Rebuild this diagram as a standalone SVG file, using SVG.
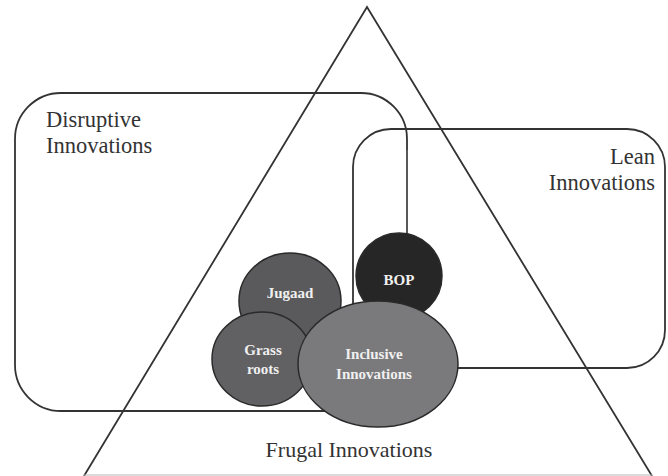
<svg xmlns="http://www.w3.org/2000/svg" width="668" height="476" viewBox="0 0 668 476">
  <style>
    .outline { fill: none; stroke: #333333; stroke-width: 1.8; }
    .label { font-family: "Liberation Serif", "Times New Roman", serif; font-size: 22.5px; fill: #333333; }
    .blob { stroke: #2a2a2a; stroke-width: 1.5; }
    .blob-text { font-family: "Liberation Serif", "Times New Roman", serif; font-size: 15px; font-weight: bold; fill: #f0f0f0; text-anchor: middle; }
  </style>

  <rect width="668" height="476" fill="#ffffff"/>

  <!-- Frugal innovations: the large triangle -->
  <g id="frugal">
    <polyline class="outline" points="84,476 367,7 652,476" stroke-width="1.6"/>
    <line x1="84" y1="475" x2="652" y2="475" stroke="#b8b8b8" stroke-width="1"/>
    <text class="label" x="349" y="457" text-anchor="middle" style="font-size:22px">Frugal Innovations</text>
  </g>

  <!-- Disruptive innovations box -->
  <g id="disruptive">
    <path class="outline" d="M407,233 V139 A46,46 0 0 0 361,93 H61 A46,46 0 0 0 15,139 V365 A46,46 0 0 0 61,411 H361"/>
    <line x1="407" y1="150" x2="407" y2="240" stroke="#666666" stroke-width="1.2"/>
    <text class="label" x="46" y="127">Disruptive</text>
    <text class="label" x="46" y="153">Innovations</text>
  </g>

  <!-- Lean innovations box -->
  <g id="lean">
    <rect class="outline" x="353" y="129" width="312" height="239" rx="38" ry="38"/>
    <text class="label" x="655" y="164" text-anchor="end">Lean</text>
    <text class="label" x="655" y="190" text-anchor="end">Innovations</text>
  </g>

  <!-- Inner ellipses -->
  <g id="jugaad">
    <ellipse class="blob" cx="290" cy="301" rx="51" ry="48" fill="#5a5a5c"/>
    <text class="blob-text" x="290" y="298">Jugaad</text>
  </g>

  <g id="bop">
    <ellipse class="blob" cx="399" cy="276" rx="43" ry="43" fill="#262626"/>
    <text class="blob-text" x="399" y="285">BOP</text>
  </g>

  <g id="grass-roots">
    <ellipse class="blob" cx="262" cy="359" rx="50" ry="47" fill="#616163"/>
    <text class="blob-text" x="263" y="355">Grass</text>
    <text class="blob-text" x="263" y="374">roots</text>
  </g>

  <g id="inclusive">
    <ellipse class="blob" cx="378" cy="364" rx="80" ry="63" fill="#7a7a7c"/>
    <text class="blob-text" x="374" y="359">Inclusive</text>
    <text class="blob-text" x="374" y="379">Innovations</text>
  </g>
</svg>
